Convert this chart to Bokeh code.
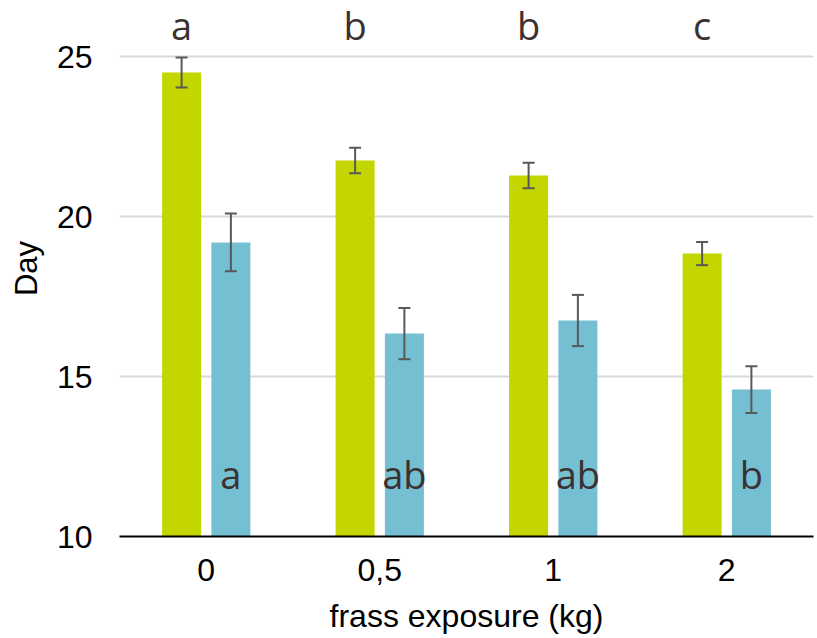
from bokeh.plotting import figure
from bokeh.models import ColumnDataSource, FactorRange, Range1d, FixedTicker, Whisker, TeeHead
from bokeh.transform import dodge
from bokeh.core.properties import value
from bokeh.embed import file_html
from bokeh.resources import INLINE

categories = ["0", "0,5", "1", "2"]
green_vals = [24.5, 21.75, 21.28, 18.84]
green_err = [0.47, 0.4, 0.4, 0.36]
blue_vals = [19.19, 16.34, 16.75, 14.59]
blue_err = [0.9, 0.8, 0.8, 0.73]
top_letters = ["a", "b", "b", "c"]
blue_letters = ["a", "ab", "ab", "b"]
y_ticks = [10, 15, 20, 25]

GREEN = "#c4d600"
BLUE = "#75bfd3"
TXT = "#3b3131"

src = ColumnDataSource(dict(
    cat=categories,
    g=green_vals,
    gu=[v + e for v, e in zip(green_vals, green_err)],
    gl=[v - e for v, e in zip(green_vals, green_err)],
    b=blue_vals,
    bu=[v + e for v, e in zip(blue_vals, blue_err)],
    bl=[v - e for v, e in zip(blue_vals, blue_err)],
    tl=top_letters,
    bll=blue_letters,
    ty=[26.0] * len(categories),
    by=[11.95] * len(categories),
))

p = figure(x_range=FactorRange(*categories), y_range=Range1d(10, 26.75),
           width=817, height=638, output_backend="svg", toolbar_location=None,
           min_border_left=119, min_border_right=4, min_border_top=0, min_border_bottom=102)
p.outline_line_color = None
p.background_fill_color = "white"
p.border_fill_color = "white"
p.x_range.range_padding = 0
p.x_range.group_padding = 0

off = 0.142
w = 0.225
p.vbar(x=dodge("cat", -off, range=p.x_range), top="g", bottom=10, width=w, source=src,
       fill_color=GREEN, line_color=None)
p.vbar(x=dodge("cat", off, range=p.x_range), top="b", bottom=10, width=w, source=src,
       fill_color=BLUE, line_color=None)

for base, up, lo in [(dodge("cat", -off, range=p.x_range), "gu", "gl"),
                     (dodge("cat", off, range=p.x_range), "bu", "bl")]:
    wk = Whisker(base=base, upper=up, lower=lo, source=src, line_color="#595959", line_width=2,
                 level="overlay",
                 upper_head=TeeHead(size=12, line_color="#595959", line_width=2),
                 lower_head=TeeHead(size=12, line_color="#595959", line_width=2))
    p.add_layout(wk)

p.text(x=dodge("cat", -off, range=p.x_range), y="ty", text="tl", source=src,
       text_font=value("Open Sans"), text_font_size="38px", text_color=TXT,
       text_align="center", text_baseline="alphabetic")
p.text(x=dodge("cat", off, range=p.x_range), y="by", text="bll", source=src,
       text_font=value("Open Sans"), text_font_size="38px", text_color=TXT,
       text_align="center", text_baseline="alphabetic")

p.ygrid.ticker = FixedTicker(ticks=y_ticks)
p.ygrid.grid_line_color = "#d9d9d9"
p.ygrid.grid_line_width = 2
p.xgrid.grid_line_color = None

p.yaxis.ticker = FixedTicker(ticks=y_ticks)
p.yaxis.axis_line_color = None
p.yaxis.major_tick_line_color = None
p.yaxis.minor_tick_line_color = None
p.yaxis.major_tick_out = 0
p.yaxis.major_label_standoff = 27
p.yaxis.major_label_text_font = "Liberation Sans"
p.yaxis.major_label_text_font_size = "32px"
p.yaxis.major_label_text_color = "black"
p.yaxis.axis_label = "Day"
p.yaxis.axis_label_text_font = "Liberation Sans"
p.yaxis.axis_label_text_font_size = "31px"
p.yaxis.axis_label_text_font_style = "normal"
p.yaxis.axis_label_text_color = "black"
p.yaxis.axis_label_standoff = 10

p.xaxis.axis_line_color = "black"
p.xaxis.axis_line_width = 2
p.xaxis.major_tick_line_color = None
p.xaxis.minor_tick_line_color = None
p.xaxis.major_tick_out = 0
p.xaxis.major_label_standoff = 22
p.xaxis.major_label_text_font = "Liberation Sans"
p.xaxis.major_label_text_font_size = "32px"
p.xaxis.major_label_text_color = "black"
p.xaxis.axis_label = "frass exposure (kg)"
p.xaxis.axis_label_text_font = "Liberation Sans"
p.xaxis.axis_label_text_font_size = "32px"
p.xaxis.axis_label_text_font_style = "normal"
p.xaxis.axis_label_text_color = "black"
p.xaxis.axis_label_standoff = 14

open("out.html", "w").write(file_html(p, INLINE))
